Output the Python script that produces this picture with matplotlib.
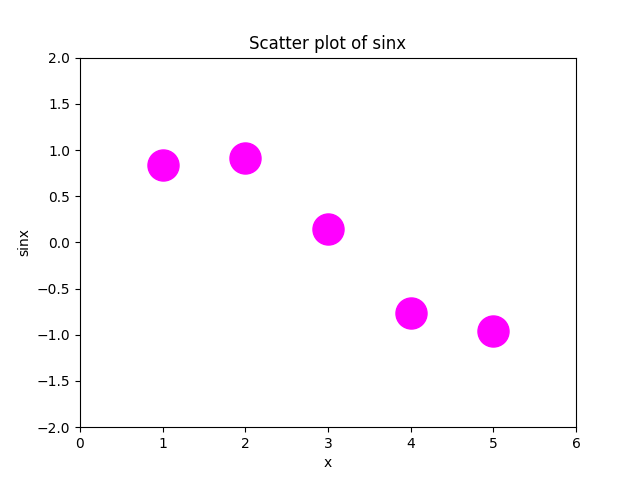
import matplotlib
matplotlib.use("Agg")
import matplotlib.pyplot as plt

# values
x = [1, 2, 3, 4, 5]
sinx = [0.84, 0.91, 0.14, -0.76, -0.96]

fig, ax = plt.subplots(figsize=(6.4, 4.8), dpi=100)
ax.scatter(x, sinx, s=500, c='magenta')
ax.set_xlim(0, 6)
ax.set_ylim(-2, 2)
ax.set_xlabel('x')
ax.set_ylabel('sinx')
ax.set_title('Scatter plot of sinx')

plt.savefig("out.png")
